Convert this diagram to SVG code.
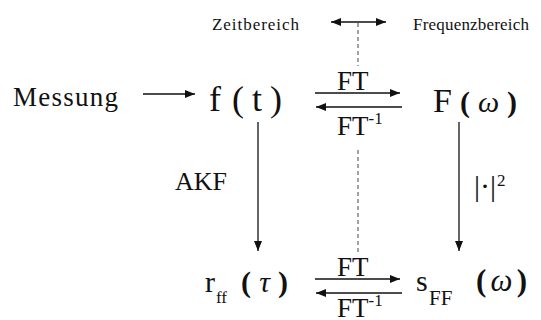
<svg xmlns="http://www.w3.org/2000/svg" width="541" height="320" viewBox="0 0 541 320">
<style>
  text { font-family: 'Liberation Serif', 'Times New Roman', serif; fill: #111; }
  .ln { stroke: #111; stroke-width: 1.3; fill: none; }
  .dash { stroke: #444; stroke-width: 1; stroke-dasharray: 4 3; fill: none; }
  .b { font-weight: bold; }
  .i { font-style: italic; }
</style>
<defs>
  <marker id="ah" markerWidth="10" markerHeight="8" refX="10" refY="4" orient="auto-start-reverse" markerUnits="userSpaceOnUse">
    <path d="M0,0 L10,4 L0,8 z" fill="#111"/>
  </marker>
</defs>
<rect width="541" height="320" fill="#fff"/>

<g id="connectors">
  <line class="ln" x1="331" y1="22" x2="386" y2="22" marker-start="url(#ah)" marker-end="url(#ah)"/>
  <line class="dash" x1="358" y1="23" x2="358" y2="66"/>
  <line class="dash" x1="358" y1="150" x2="358" y2="252"/>
  <line class="ln" x1="143" y1="94" x2="195" y2="94" marker-end="url(#ah)"/>
  <line class="ln" x1="315" y1="93" x2="400" y2="93" marker-end="url(#ah)"/>
  <line class="ln" x1="402" y1="107" x2="316" y2="107" marker-end="url(#ah)"/>
  <line class="ln" x1="258" y1="122" x2="258" y2="251" marker-end="url(#ah)"/>
  <line class="ln" x1="459" y1="122" x2="459" y2="251" marker-end="url(#ah)"/>
  <line class="ln" x1="315" y1="279" x2="400" y2="279" marker-end="url(#ah)"/>
  <line class="ln" x1="402" y1="293" x2="316" y2="293" marker-end="url(#ah)"/>
  <text x="337" y="90" font-size="27">FT</text>
  <text x="337" y="135" font-size="27">FT<tspan font-size="17" dy="-11">-1</tspan></text>
  <text x="337" y="276" font-size="27">FT</text>
  <text x="337" y="317" font-size="27">FT<tspan font-size="17" dy="-11">-1</tspan></text>
  <text x="175" y="190" font-size="26">AKF</text>
  <text x="474" y="196" font-size="30">|·|</text>
  <text x="497" y="186" font-size="17">2</text>
</g>

<g id="zeitbereich"><text x="212" y="30" font-size="17" textLength="87">Zeitbereich</text></g>
<g id="frequenzbereich"><text x="413" y="30" font-size="17" textLength="116">Frequenzbereich</text></g>
<g id="messung"><text x="13" y="106" font-size="27" textLength="105">Messung</text></g>
<g id="f_t">
  <text x="209" y="111" font-size="36">f</text>
  <text x="232" y="111" font-size="36" textLength="50">(t)</text>
</g>
<g id="F_omega">
  <text x="433" y="112" font-size="34">F</text>
  <text x="460" y="112" font-size="30" textLength="57"><tspan class="b">(</tspan><tspan class="i">ω</tspan><tspan class="b">)</tspan></text>
</g>
<g id="r_ff">
  <text x="205" y="292" font-size="30">r</text>
  <text x="216" y="303" font-size="17">ff</text>
  <text x="241" y="292" font-size="30" textLength="47"><tspan class="b">(</tspan><tspan class="i">τ</tspan><tspan class="b">)</tspan></text>
</g>
<g id="s_FF">
  <text x="416" y="291" font-size="30">s</text>
  <text x="429" y="305" font-size="21">FF</text>
  <text x="476" y="291" font-size="31" textLength="51"><tspan class="b">(</tspan><tspan class="i">ω</tspan><tspan class="b">)</tspan></text>
</g>
</svg>
